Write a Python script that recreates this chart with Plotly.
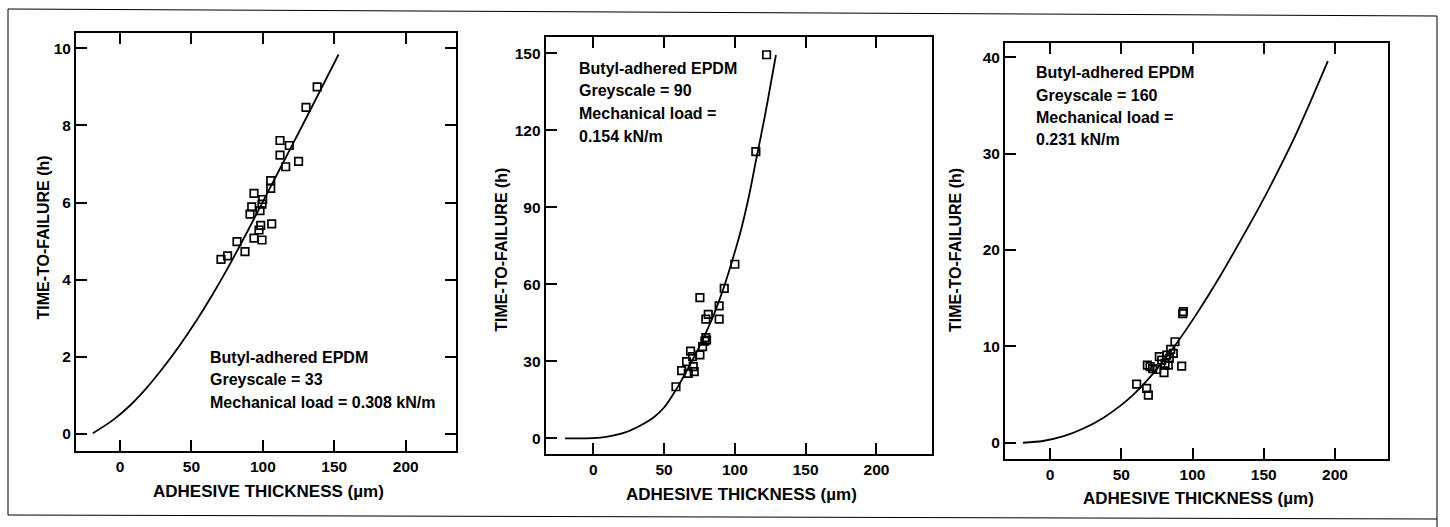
import plotly.graph_objects as go

W, H = 1450, 527

# ---------------- data ----------------
# Panel 1: Greyscale = 33, load 0.308 kN/m
p1_x = [70.7, 75.3, 81.9, 87.5, 91.0, 92.2, 93.8, 93.8, 97.3, 98.5, 98.0, 99.4,
        99.9, 99.4, 106.2, 105.5, 105.5, 112.0, 112.0, 116.0, 118.5, 125.0, 130.2, 138.0]
p1_y = [4.53, 4.62, 4.99, 4.73, 5.70, 5.89, 6.24, 5.08, 5.29, 5.41, 5.79, 5.96,
        6.08, 5.03, 5.45, 6.37, 6.57, 7.61, 7.23, 6.93, 7.48, 7.07, 8.47, 9.00]
p1_cx = [-19, -5, 7, 19, 30, 42, 54, 65, 76, 90, 105, 120, 135, 153]
p1_cy = [0.02, 0.36, 0.74, 1.21, 1.71, 2.31, 2.97, 3.63, 4.34, 5.31, 6.38, 7.45, 8.53, 9.84]

# Panel 2: Greyscale = 90, load 0.154 kN/m
p2_x = [58.4, 62.4, 65.9, 67.1, 68.7, 70.1, 70.6, 71.3, 75.3, 75.3, 77.2, 78.8,
        79.5, 79.5, 80.0, 81.2, 88.9, 88.9, 92.5, 100.0, 114.8, 122.4]
p2_y = [20.1, 26.4, 29.9, 25.3, 34.0, 31.8, 27.9, 26.0, 32.5, 54.8, 35.7, 37.9,
        39.2, 46.4, 38.3, 48.3, 51.6, 46.4, 58.4, 67.8, 111.7, 149.4]
p2_cx = [-20, 0, 10, 22, 33, 43, 50, 56, 61, 66, 72, 79, 85, 92, 98, 104, 110, 115, 121, 129]
p2_cy = [0.0, 0.1, 0.7, 2.2, 4.9, 8.3, 12.0, 16.8, 21.3, 26.3, 32.5, 40.5, 48.0, 58.5,
         69.0, 80.5, 94.5, 108.5, 125.0, 149.3]

# Panel 3: Greyscale = 160, load 0.231 kN/m
p3_x = [60.8, 67.8, 69.0, 68.3, 70.2, 72.0, 74.9, 76.7, 78.4, 80.0, 80.7, 81.9,
        83.0, 83.7, 84.7, 86.5, 87.7, 92.4, 93.1, 93.6]
p3_y = [6.09, 5.64, 4.95, 8.06, 7.90, 7.70, 7.60, 8.93, 8.58, 7.27, 8.24, 9.10,
        8.06, 8.75, 9.69, 9.27, 10.48, 7.96, 13.4, 13.6]
p3_cx = [-19, -5, 9, 23, 37, 49, 58.5, 68, 77, 89, 103, 119, 133, 147, 159, 171, 182.5, 195]
p3_cy = [0.0, 0.18, 0.65, 1.45, 2.55, 3.8, 5.0, 6.45, 8.0, 10.35, 13.4, 17.2, 20.8, 24.5,
         27.9, 31.5, 35.3, 39.6]

x_ticks = [0, 50, 100, 150, 200]
p1_yticks = [0, 2, 4, 6, 8, 10]
p2_yticks = [0, 30, 60, 90, 120, 150]
p3_yticks = [0, 10, 20, 30, 40]

p1_text = ["Butyl-adhered EPDM", "Greyscale = 33", "Mechanical load = 0.308 kN/m"]
p2_text = ["Butyl-adhered EPDM", "Greyscale = 90", "Mechanical load =", "0.154 kN/m"]
p3_text = ["Butyl-adhered EPDM", "Greyscale = 160", "Mechanical load =", "0.231 kN/m"]

x_title = "ADHESIVE THICKNESS (µm)"
y_title = "TIME-TO-FAILURE (h)"

# ---------------- layout helpers ----------------
FONT = "Liberation Sans, Arial, Helvetica, sans-serif"


def px(x):
    return x / W


def py(y):
    return 1 - y / H


panels = [
    dict(xd=(76, 456), yd=(32.5, 451), xr=(-30.8, 235.2), yr=(-0.44, 10.41),
         yt=p1_yticks, pts=(p1_x, p1_y), crv=(p1_cx, p1_cy), ymirror="ticks"),
    dict(xd=(545.7, 931.7), yd=(37.3, 454), xr=(-33.6, 239.0), yr=(-6.1, 156.2),
         yt=p2_yticks, pts=(p2_x, p2_y), crv=(p2_cx, p2_cy), ymirror=True),
    dict(xd=(1005, 1388.3), yd=(42.7, 459.3), xr=(-31.6, 237.4), yr=(-1.72, 41.52),
         yt=p3_yticks, pts=(p3_x, p3_y), crv=(p3_cx, p3_cy), ymirror=True),
]

fig = go.Figure()
layout = dict(
    width=W, height=H,
    margin=dict(l=0, r=0, t=0, b=0),
    paper_bgcolor="white", plot_bgcolor="white",
    showlegend=False,
    font=dict(family=FONT, color="black"),
)

axis_common = dict(
    showline=True, linecolor="black", linewidth=2,
    ticks="inside", ticklen=11, tickwidth=2, tickcolor="black",
    showgrid=False, zeroline=False,
    tickfont=dict(family=FONT, size=15.5, color="black", weight="bold"),
    fixedrange=True,
)

for i, p in enumerate(panels, start=1):
    sfx = "" if i == 1 else str(i)
    xa, ya = "x" + sfx, "y" + sfx
    fig.add_trace(go.Scatter(
        x=p["crv"][0], y=p["crv"][1], mode="lines", xaxis=xa, yaxis=ya,
        line=dict(color="black", width=1.8, shape="spline", smoothing=0.8),
        hoverinfo="skip"))
    fig.add_trace(go.Scatter(
        x=p["pts"][0], y=p["pts"][1], mode="markers", xaxis=xa, yaxis=ya,
        marker=dict(symbol="square-open", size=7.5, color="black",
                    line=dict(color="black", width=1.7))))
    layout["xaxis" + sfx] = dict(
        axis_common, mirror="ticks",
        domain=[px(p["xd"][0]), px(p["xd"][1])], range=list(p["xr"]),
        tickvals=x_ticks, anchor=ya)
    layout["yaxis" + sfx] = dict(
        axis_common, mirror=p["ymirror"],
        domain=[py(p["yd"][1]), py(p["yd"][0])], range=list(p["yr"]),
        tickvals=p["yt"], anchor=xa)

annotations = []


def add_text(text, x, y, size=16, xanchor="left", angle=0):
    annotations.append(dict(
        text=text, x=px(x), y=py(y), xref="paper", yref="paper",
        xanchor=xanchor, yanchor="middle", showarrow=False, textangle=angle,
        font=dict(family=FONT, size=size, color="black", weight="bold")))


for j, t in enumerate(p1_text):
    add_text(t, 208.3, 357 + 22.5 * j)
for j, t in enumerate(p2_text):
    add_text(t, 576.7, 68.3 + 22.6 * j)
for j, t in enumerate(p3_text):
    add_text(t, 1034, 72.7 + 22.4 * j)

# axis titles
for cx, cy in [(268.3, 491), (741, 494), (1198, 498)]:
    add_text(x_title, cx, cy, size=17, xanchor="center")
for cx, cy in [(43, 237.5), (500.7, 250), (955, 250)]:
    add_text(y_title, cx, cy, size=16, xanchor="center", angle=-90)

layout["annotations"] = annotations

# outer frame of the figure (scanned page border)
shapes = []
for (x0, y0, x1, y1) in [(8, 9, 1437, 16), (8, 9, 8, 515), (8, 515, 1437, 519),
                         (1437, 16, 1437, 527)]:
    shapes.append(dict(type="line", xref="paper", yref="paper",
                       x0=px(x0), y0=py(y0), x1=px(x1), y1=py(y1),
                       line=dict(color="black", width=1)))
layout["shapes"] = shapes

fig.update_layout(**layout)
fig.write_html("out.html")
